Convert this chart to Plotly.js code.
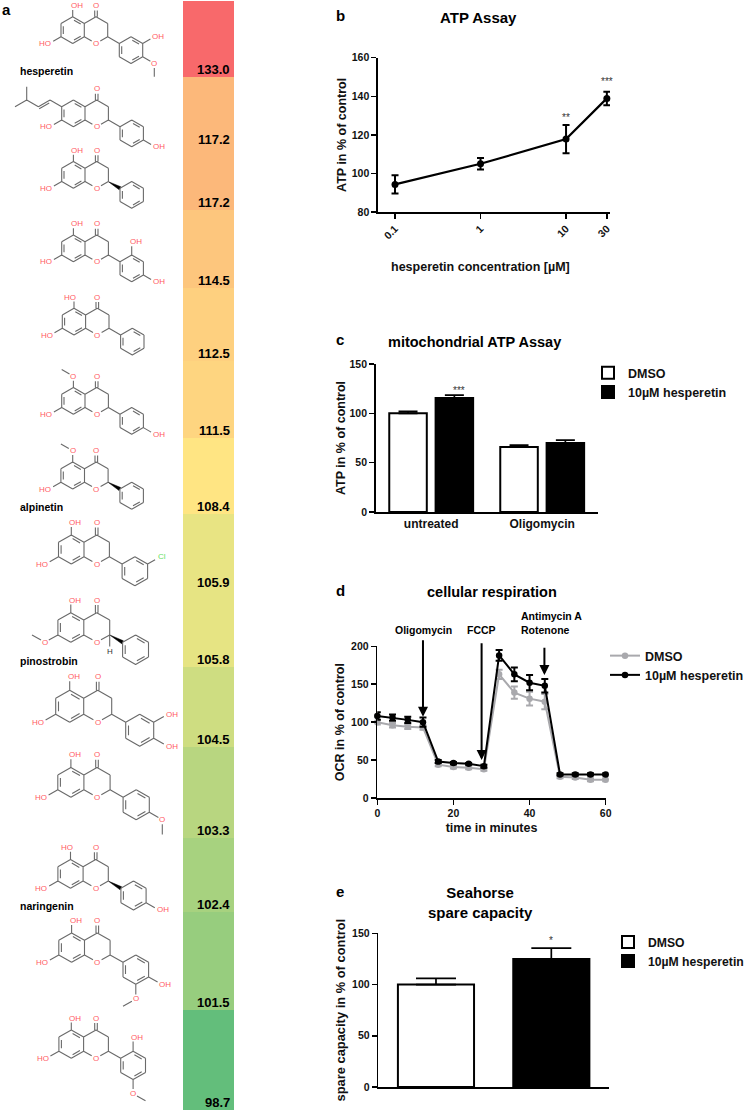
<!DOCTYPE html>
<html>
<head>
<meta charset="utf-8">
<script src="https://cdn.plot.ly/plotly-3.0.1.min.js"></script>
<style>html,body{margin:0;padding:0;background:#fff}</style>
</head>
<body>
<div id="chart" style="width:750px;height:1112px"></div>
<script>
// ---------- data ----------
const screenValues = [133.0,117.2,117.2,114.5,112.5,111.5,108.4,105.9,105.8,104.5,103.3,102.4,101.5,98.7];
const screenEdges  = [1,77,147,209.5,288,361,438,513.5,590,667,747,838,912,1009.5,1110];
const screenMid    = 107.15;

const atpConc   = [0.1,1,10,30];
const atpMean   = [94.3,105,117.8,138.9];
const atpErr    = [4.75,3,7.3,3.5];
const atpTicks  = ['0.1','1','10','30'];

const mitoCats   = ['untreated','Oligomycin'];
const mitoDmso   = [100,65.9];
const mitoDmsoE  = [2,1.8];
const mitoHesp   = [115.5,70];
const mitoHespE  = [3,2.8];

const ocrTime    = [0,4,8,12,16,20,24,28,32,36,40,44,48,52,56,60];
const ocrDmso    = [100,96,94,93,44,41,40,38,163,139,131,127,28,27,24,24];
const ocrDmsoE   = [3,3,3,3,2,2,2,2,6,8,9,10,2,2,2,2];
const ocrHesp    = [108,106,103,100,48,46,45,42,188,163,152,148,31,31,31,31];
const ocrHespE   = [5,4,4,6,2,1.5,1,2,7,9,10,9,1.5,1.5,1.5,1.5];

const spareCats  = ['DMSO','10µM hesperetin'];
const spareMean  = [100,125];
const spareErr   = [6,10.5];

const COL = {dmso:'#a9a9ad', black:'#000', bond:'#6a6a6a', het:'#ff5a63', cl:'#5fe05f'};
const FONT = '"Liberation Sans", Arial, sans-serif';

// ---------- structures panel ----------
const molecules = [
 {o:[96,43.5],s:1,name:'hesperetin',subs:[['C5',-2,-5.7,'OH'],['C7',-4,0,'HO'],['C3p',5,-1,'OH'],['C4p',5,3,'O',5,5]]},
 {o:[96.7,126.7],s:1,prenyl:true,subs:[['C7',-4,0,'HO'],['C4p',5,3,'OH']]},
 {o:[96.7,188.3],s:1,wedge:true,subs:[['C5',-2,-5.7,'OH'],['C7',-4,0,'HO']]},
 {o:[96.7,261.7],s:1,subs:[['C5',-2,-5.7,'OH'],['C7',-4,0,'HO'],['C2p',3,-3,'OH'],['C4p',5,3,'OH']]},
 {o:[97.3,335],s:1,subs:[['C5',-2,-5.7,'HO'],['C7',-4,0,'HO']]},
 {o:[96.7,414.3],s:1,subs:[['C5',-2,-5.7,'O',-3,-6.7],['C7',-4,0,'HO'],['C4p',5,3,'OH']]},
 {o:[96.3,489],s:1.01,wedge:true,subs:[['C5',-2,-5.7,'O',-3,-6.7],['C7',-4,0,'HO']]},
 {o:[96.7,564],s:1.09,subs:[['C5',-2,-5.7,'OH'],['C7',-4,0,'HO'],['C3p',5,-1,'Cl']]},
 {o:[96.7,642.3],s:1.11,wedge:true,hydrogen:true,subs:[['C5',-2,-5.7,'OH'],['C7',-4,0,'O',-5,-1]]},
 {o:[97.7,722.3],s:1.2,subs:[['C5',-2,-5.7,'OH'],['C7',-4,0,'HO'],['C3p',5,-1,'OH'],['C4p',5,3,'OH']]},
 {o:[97,797.3],s:1.12,subs:[['C5',-2,-5.7,'OH'],['C7',-4,0,'HO'],['C4p',5,3,'O',5,5]]},
 {o:[95.7,888.3],s:1.08,wedge:true,subs:[['C5',-2,-5.7,'HO'],['C7',-4,0,'HO'],['C4p',5,3,'OH']]},
 {o:[97.3,962.3],s:1.1,subs:[['C5',-2,-5.7,'OH'],['C7',-4,0,'HO'],['C4p',5,3,'OH'],['C5p',3,5,'O',2,6]]},
 {o:[96,1058.3],s:1.06,subs:[['C5',-2,-5.7,'OH'],['C7',-4,0,'HO'],['C2p',3,-3,'OH'],['C5p',3,5,'O',4,6]]}
];
const compoundNames = [
 {t:'hesperetin',y:71},{t:'alpinetin',y:507},{t:'pinostrobin',y:661},{t:'naringenin',y:906}
];
const ATOMS = {O1:[0,0],C2:[1,-1],C3:[1,-3],C4:[0,-4],O4:[0,-5.7],C4a:[-1,-3],C8a:[-1,-1],C8:[-2,0],C7:[-3,-1],C6:[-3,-3],C5:[-2,-4],
  C1p:[2,0],C2p:[3,-1],C3p:[4,0],C4p:[4,2],C5p:[3,3],C6p:[2,2]};
const BONDS = [['O1','C2'],['C2','C3'],['C3','C4'],['C4','C4a'],['C4a','C8a'],['C8a','O1'],['C8a','C8'],['C8','C7'],['C7','C6'],['C6','C5'],['C5','C4a'],
  ['C1p','C2p'],['C2p','C3p'],['C3p','C4p'],['C4p','C5p'],['C5p','C6p'],['C6p','C1p']];
const INNER = [[['C7','C6'],[-2,-2]],[['C5','C4a'],[-2,-2]],[['C8','C8a'],[-2,-2]],[['C1p','C6p'],[3,1]],[['C2p','C3p'],[3,1]],[['C4p','C5p'],[3,1]]];
const DX = 35/3, DY = 20/3;

function buildMolecule(m, shapes, annos){
  const P = (u,v)=>[m.o[0]+u*DX*m.s, m.o[1]+v*DY*m.s];
  const A = n=>P(ATOMS[n][0],ATOMS[n][1]);
  let path='';
  const seg=(a,b,ta=0,tb=0)=>{
    const dx=b[0]-a[0],dy=b[1]-a[1],l=Math.hypot(dx,dy);
    const s=[a[0]+dx*ta/l,a[1]+dy*ta/l], e=[b[0]-dx*tb/l,b[1]-dy*tb/l];
    path+=`M${s[0].toFixed(1)},${s[1].toFixed(1)}L${e[0].toFixed(1)},${e[1].toFixed(1)}`;
  };
  BONDS.forEach(([a,b])=>seg(A(a),A(b),a==='O1'?5:0,b==='O1'?5:0));
  INNER.forEach(([[a,b],c])=>{
    const C=P(c[0],c[1]),pa=A(a),pb=A(b),k=0.2;
    const ia=[pa[0]+(C[0]-pa[0])*k,pa[1]+(C[1]-pa[1])*k], ib=[pb[0]+(C[0]-pb[0])*k,pb[1]+(C[1]-pb[1])*k];
    seg(ia,ib,1.5,1.5);
  });
  // carbonyl
  const c4=A('C4'),o4=A('O4');
  seg([c4[0]-1.3,c4[1]],[o4[0]-1.3,o4[1]],0,5); seg([c4[0]+1.3,c4[1]],[o4[0]+1.3,o4[1]],0,5);
  annos.push(label(o4[0],o4[1],'O',COL.het,'center'));
  annos.push(label(m.o[0],m.o[1],'O',COL.het,'center'));
  // C2 to aryl bond
  if(m.wedge){
    const a=A('C2'),b=A('C1p'),dx=b[0]-a[0],dy=b[1]-a[1],l=Math.hypot(dx,dy),nx=-dy/l*1.7,ny=dx/l*1.7;
    shapes.push({type:'path',xref:'x5',yref:'y5',layer:'above',fillcolor:'#000',line:{width:0.5,color:'#000'},
      path:`M${a[0]},${a[1]}L${b[0]+nx},${b[1]+ny}L${b[0]-nx},${b[1]-ny}Z`});
  } else seg(A('C2'),A('C1p'));
  if(m.hydrogen){
    const h=P(1,1.25); seg(A('C2'),h,0,5);
    annos.push(label(h[0],h[1],'H','#333','center'));
  }
  m.subs.forEach(s=>{
    const from=A(s[0]),to=P(s[1],s[2]),t=s[3];
    seg(from,to,0,t==='Cl'?6:4.5);
    if(t==='OH'||t==='Cl') annos.push(label(to[0]-3,to[1],t,t==='Cl'?COL.cl:COL.het,'left'));
    else if(t==='HO') annos.push(label(to[0]+3,to[1],t,COL.het,'right'));
    else annos.push(label(to[0],to[1],t,COL.het,'center'));
    if(s.length>4) seg(to,P(s[4],s[5]),4.5,0);
  });
  if(m.prenyl){
    const c=[[-3,-3],[-4,-4],[-5,-3],[-6,-4],[-6,-6]];
    for(let i=0;i<4;i++) seg(P(c[i][0],c[i][1]),P(c[i+1][0],c[i+1][1]));
    seg(P(-6,-4),P(-7,-3));
    const a=P(-4,-4),b=P(-5,-3); seg([a[0],a[1]+2.6],[b[0],b[1]+2.6],1,1);
  }
  shapes.push({type:'path',xref:'x5',yref:'y5',layer:'above',path,line:{color:COL.bond,width:1.1}});
}
function label(x,y,text,color,anchor){
  return {xref:'x5',yref:'y5',x,y,text,showarrow:false,xanchor:anchor,yanchor:'middle',
    font:{family:FONT,size:8,color},borderpad:0};
}

// ---------- helpers ----------
const dx=(l,r)=>[l/750,r/750];
const dy=(t,b)=>[1-b/1112,1-t/1112];
const line={showline:true,linecolor:'#000',linewidth:1.6,ticks:'outside',ticklen:5,tickwidth:1.5,tickcolor:'#000',
  showgrid:false,zeroline:false,tickfont:{family:FONT,size:10.5,color:'#111',weight:700}};
const tfont={family:FONT,size:12.5,color:'#111',weight:700};
const txt=(x,y,text,size,extra={})=>Object.assign({xref:'x5',yref:'y5',x,y,text,showarrow:false,
  font:{family:FONT,size,color:'#000',weight:700},xanchor:'center',yanchor:'middle'},extra);
const err=a=>({type:'data',array:a,visible:true,color:'#000',thickness:2,width:3.5});
const errUp=(a,w)=>({type:'data',symmetric:false,array:a,arrayminus:a.map(()=>0),visible:true,color:'#000',thickness:1.7,width:w});

// ---------- traces ----------
const traces=[
 {type:'heatmap',xaxis:'x5',yaxis:'y5',x:[183,234],y:screenEdges,z:screenValues.map(v=>[v]),zmin:98.7,zmax:133,showscale:false,
  colorscale:[[0,'#63BE7B'],[(screenMid-98.7)/(133-98.7),'#FFEB84'],[1,'#F8696B']]},
 {type:'scatter',mode:'lines+markers',x:atpConc,y:atpMean,error_y:err(atpErr),xaxis:'x',yaxis:'y',showlegend:false,cliponaxis:false,
  line:{color:'#000',width:2.2},marker:{color:'#000',size:7}},
 {type:'bar',name:'DMSO',x:mitoCats,y:mitoDmso,error_y:errUp(mitoDmsoE,9.5),xaxis:'x2',yaxis:'y2',legend:'legend',offsetgroup:'a',
  marker:{color:'#fff',line:{color:'#000',width:2}}},
 {type:'bar',name:'10µM hesperetin',x:mitoCats,y:mitoHesp,error_y:errUp(mitoHespE,9.5),xaxis:'x2',yaxis:'y2',legend:'legend',offsetgroup:'b',
  marker:{color:'#000',line:{color:'#000',width:2}}},
 {type:'scatter',mode:'lines+markers',name:'DMSO',x:ocrTime,y:ocrDmso,error_y:Object.assign(err(ocrDmsoE),{color:COL.dmso}),xaxis:'x3',yaxis:'y3',legend:'legend2',cliponaxis:false,
  line:{color:COL.dmso,width:2},marker:{color:COL.dmso,size:6.5}},
 {type:'scatter',mode:'lines+markers',name:'10µM hesperetin',x:ocrTime,y:ocrHesp,error_y:err(ocrHespE),xaxis:'x3',yaxis:'y3',legend:'legend2',cliponaxis:false,
  line:{color:'#000',width:2},marker:{color:'#000',size:6.5}},
 {type:'bar',name:spareCats[0],x:[spareCats[0]],y:[spareMean[0]],error_y:errUp([spareErr[0]],20),xaxis:'x4',yaxis:'y4',legend:'legend3',width:0.66,offset:-0.33,
  marker:{color:'#fff',line:{color:'#000',width:2}}},
 {type:'bar',name:spareCats[1],x:[spareCats[1]],y:[spareMean[1]],error_y:errUp([spareErr[1]],20),xaxis:'x4',yaxis:'y4',legend:'legend3',width:0.66,offset:-0.33,
  marker:{color:'#000',line:{color:'#000',width:2}}}
];

// ---------- annotations & shapes ----------
const shapes=[], annotations=[];
molecules.forEach(m=>buildMolecule(m,shapes,annotations));
compoundNames.forEach(c=>annotations.push(txt(18,c.y,c.t,10.5,{xanchor:'left'})));
screenValues.forEach((v,i)=>annotations.push(txt(231,screenEdges[i+1]+1,v.toFixed(1),13,{xanchor:'right',yanchor:'bottom',borderpad:0})));
[['a',6,9],['b',340,15],['c',340,339],['d',340,590],['e',340,891]].forEach(p=>annotations.push(txt(p[1],p[2],p[0],15)));
annotations.push(txt(478.7,17,'ATP Assay',15));
annotations.push(txt(474,342,'mitochondrial ATP Assay',14.5));
annotations.push(txt(491.7,592,'cellular respiration',14.5));
annotations.push(txt(480,902,'Seahorse<br>spare capacity',15));
annotations.push(Object.assign(txt(480.5,267,'hesperetin concentration [µM]',12.5),{font:tfont}));
const star=(xref,yref,x,y,text)=>({xref,yref,x,y,text,showarrow:false,font:{family:FONT,size:10,color:'#333'}});
annotations.push(star('x','y',Math.log10(atpConc[2]),129,'**'),star('x','y',Math.log10(atpConc[3]),147.5,'***'));
annotations.push(star('x2','y2',0.25,123,'***'));
annotations.push(star('x4','y4',1,143,'*'));
const arrow=(x,top,tip)=>({xref:'x3',yref:'y3',axref:'x3',ayref:'y3',x,y:tip,ax:x,ay:top,text:'',showarrow:true,arrowhead:2,arrowsize:1,arrowwidth:2,arrowcolor:'#000'});
annotations.push(arrow(12,210,107),arrow(27.4,206,50),arrow(43.9,200,162));
annotations.push(txt(423,630,'Oligomycin',10.5),txt(481.7,630,'FCCP',10.5),
  txt(519,622.5,'Antimycin A<br>Rotenone',10.5,{xanchor:'left',align:'left'}));

// ---------- layout ----------
const leg=(x,y,size)=>({x:x/750,y:1-y/1112,xanchor:'left',yanchor:'top',bgcolor:'rgba(0,0,0,0)',itemwidth:30,
  font:{family:FONT,size,color:'#111',weight:700}});
const layout={
 width:750,height:1112,margin:{l:0,r:0,t:0,b:0},paper_bgcolor:'#fff',plot_bgcolor:'rgba(0,0,0,0)',showlegend:true,
 bargap:0.165,bargroupgap:0.19,barmode:'group',
 xaxis:Object.assign({},line,{domain:dx(378,610),anchor:'y',type:'log',range:[-1.199,1.514],tickvals:atpConc,ticktext:atpTicks,tickangle:-45}),
 yaxis:Object.assign({},line,{domain:dy(57.7,212),anchor:'x',range:[80,160],tickvals:[80,100,120,140,160],
   title:{text:'ATP in % of control',font:tfont,standoff:2}}),
 xaxis2:Object.assign({},line,{domain:dx(375.7,597.7),anchor:'y2',type:'category',range:[-0.5,1.5],ticks:'',tickfont:Object.assign({},tfont,{size:12})}),
 yaxis2:Object.assign({},line,{domain:dy(364,512),anchor:'x2',range:[0,150],tickvals:[0,50,100,150],
   title:{text:'ATP in % of control',font:tfont,standoff:1}}),
 xaxis3:Object.assign({},line,{domain:dx(377.3,605.7),anchor:'y3',range:[0,60],tickvals:[0,20,40,60],
   title:{text:'time in minutes',font:tfont,standoff:5}}),
 yaxis3:Object.assign({},line,{domain:dy(646.3,798),anchor:'x3',range:[0,200],tickvals:[0,50,100,150,200],
   title:{text:'OCR in % of control',font:tfont,standoff:3}}),
 xaxis4:Object.assign({},line,{domain:dx(378.3,609),anchor:'y4',type:'category',categoryorder:'array',categoryarray:spareCats,range:[-0.5,1.5],ticks:'',showticklabels:false}),
 yaxis4:Object.assign({},line,{domain:dy(933.3,1087),anchor:'x4',range:[0,150],tickvals:[0,50,100,150],
   title:{text:'spare capacity in % of control',font:Object.assign({},tfont,{size:12.9}),standoff:3}}),
 xaxis5:{domain:[0,1],range:[0,750],visible:false,anchor:'y5',fixedrange:true},
 yaxis5:{domain:[0,1],range:[1112,0],visible:false,anchor:'x5',fixedrange:true},
 legend:leg(588,358,12.5),
 legend2:leg(605,641,12.5),
 legend3:leg(608,927.5,12.2),
 shapes,annotations
};
Plotly.newPlot('chart',traces,layout,{staticPlot:true,displayModeBar:false});
</script>
</body>
</html>
